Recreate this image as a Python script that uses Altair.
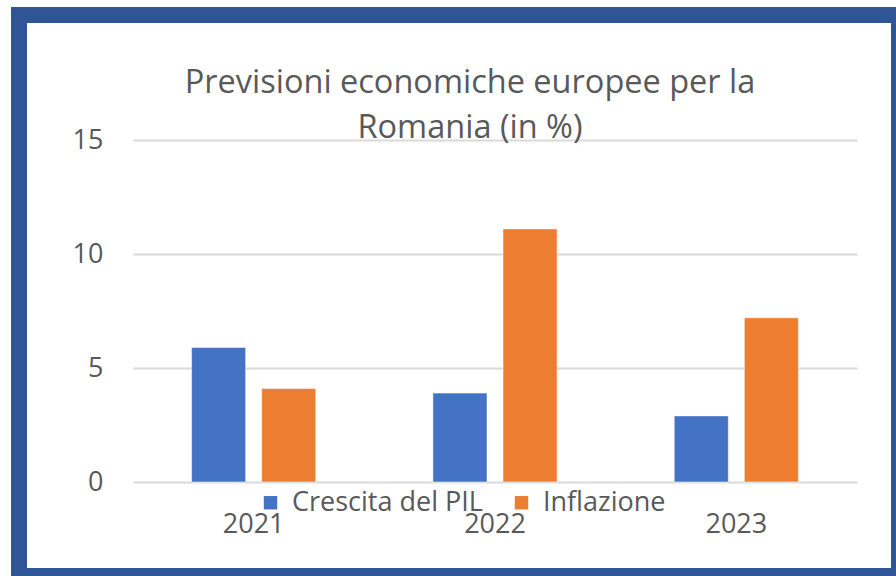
import altair as alt
import pandas as pd

years = ["2021", "2022", "2023"]
series = ["Crescita del PIL", "Inflazione"]
pil = [5.9, 3.9, 2.9]
inflazione = [4.1, 11.1, 7.2]
colors = ["#4472C4", "#ED7D31"]
y_ticks = [0, 5, 10, 15]
title_lines = ["Previsioni economiche europee per la", "Romania (in %)"]

rows = []
for i, y in enumerate(years):
    rows.append({"anno": y, "serie": series[0], "valore": pil[i]})
    rows.append({"anno": y, "serie": series[1], "valore": inflazione[i]})
df = pd.DataFrame(rows)

FONT = "Open Sans"
GRAY = "#595959"
BLUE = "#2F5597"
dummy = pd.DataFrame({"a": [0]})


def band(x1, x2, y1, y2):
    return alt.Chart(dummy).mark_rect(color=BLUE).encode(
        x=alt.value(x1), x2=alt.value(x2), y=alt.value(y1), y2=alt.value(y2)
    )


frame = [
    band(-122, 780, -133, -117),   # top
    band(-122, -106, -133, 450),   # left
    band(758, 780, -133, 450),     # right
    band(-122, 780, 428, 450),     # bottom
]

title_marks = [
    alt.Chart(dummy).mark_text(font=FONT, fontSize=32.5, color=GRAY,
                               align="center", baseline="middle").encode(
        x=alt.value(337), y=alt.value(-57), text=alt.value(title_lines[0])),
    alt.Chart(dummy).mark_text(font=FONT, fontSize=32.5, color=GRAY,
                               align="center", baseline="middle").encode(
        x=alt.value(337), y=alt.value(-12), text=alt.value(title_lines[1])),
]

bars = alt.Chart(df).mark_bar(stroke="#FFFFFF", strokeOpacity=0.5, strokeWidth=1).encode(
    x=alt.X("anno:N", sort=years,
            scale=alt.Scale(paddingInner=0.4855, paddingOuter=0.2428),
            axis=alt.Axis(title=None, labelAngle=0, ticks=False, domain=False,
                          labelFont=FONT, labelFontSize=27, labelColor=GRAY,
                          labelPadding=29, labelBaseline="top")),
    xOffset=alt.XOffset("serie:N", sort=series,
                        scale=alt.Scale(paddingInner=0.2286, paddingOuter=0)),
    y=alt.Y("valore:Q", scale=alt.Scale(domain=[0, 15], nice=False),
            axis=alt.Axis(title=None, values=y_ticks, ticks=False, domain=False,
                          grid=True, gridColor="#D9D9D9", gridWidth=2,
                          labelFont=FONT, labelFontSize=27, labelColor=GRAY,
                          labelPadding=30)),
    color=alt.Color("serie:N", sort=series,
                    scale=alt.Scale(domain=series, range=colors),
                    legend=alt.Legend(title=None, orient="none", direction="horizontal",
                                      legendX=124, legendY=349,
                                      symbolType="square", symbolSize=180,
                                      symbolStrokeWidth=0,
                                      labelFont=FONT, labelFontSize=27, labelColor=GRAY,
                                      labelLimit=400, labelOffset=8, columnPadding=25)),
)

chart = alt.layer(*frame, *title_marks, bars).properties(
    width=724, height=342,
    autosize=alt.AutoSizeParams(type="none"),
    padding={"left": 133, "top": 140, "right": 39, "bottom": 94},
).configure(background="#FFFFFF").configure_view(stroke=None)

chart.save("out.html", embed_options={"renderer": "svg", "actions": False})
